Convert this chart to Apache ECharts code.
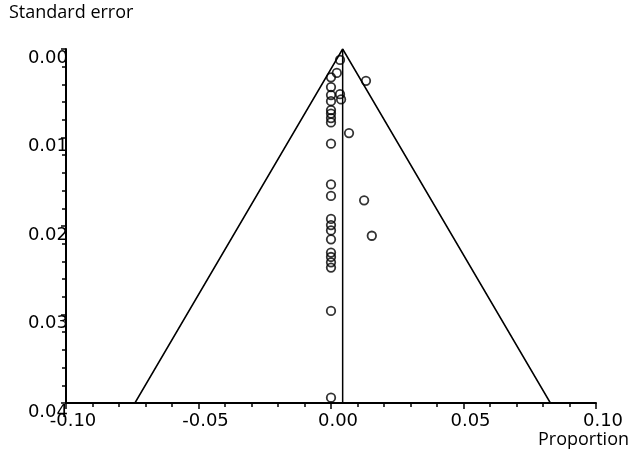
<!DOCTYPE html>
<html>
<head>
<meta charset="utf-8">
<script src="https://cdn.jsdelivr.net/npm/echarts@6/dist/echarts.min.js"></script>
<style>
  html, body { margin: 0; padding: 0; background: #fff; }
  #chart { width: 633px; height: 462px; }
</style>
</head>
<body>
<div id="chart"></div>
<script>
// study proportions and their standard errors
const proportion = [
  0.0034, 0.0022, 0.0000, 0.0132, 0.0000, 0.0034, 0.0038, 0.0000, 0.0000, 0.0000,
  0.0000, 0.0000, 0.0000, 0.0068, 0.0000, 0.0000, 0.0000, 0.0125, 0.0000, 0.0000,
  0.0000, 0.0000, 0.0154, 0.0000, 0.0000, 0.0000, 0.0000, 0.0000, 0.0000
]
const stdError = [
  0.00124, 0.0027, 0.0032, 0.0036, 0.0043, 0.0051, 0.0057, 0.0052, 0.0059, 0.0069,
  0.0073, 0.0078, 0.0083, 0.0095, 0.0107, 0.0153, 0.0166, 0.0171, 0.0192, 0.0199,
  0.0205, 0.0215, 0.0211, 0.0230, 0.0235, 0.0241, 0.0247, 0.0296, 0.0394
]
// pooled estimate and the pseudo 95% limits
const pooled = 0.0044
const funnelX = [-0.0740, 0.0044, 0.0828]
const funnelY = [0.04, 0, 0.04]
const xTicks = ['-0.10', '-0.05', '0.00', '0.05', '0.10']

const chart = echarts.init(document.getElementById('chart'))

const black = '#000'
const tickFont = 'DejaVu Sans'

const option = {
  animation: false,
  backgroundColor: '#fff',
  grid: { left: 66, right: 37, top: 49, bottom: 59 },
  xAxis: {
    type: 'value',
    min: -0.1,
    max: 0.1,
    interval: 0.05,
    axisLine: { show: true, onZero: false, lineStyle: { color: black, width: 2 } },
    axisTick: { show: true, length: 6, lineStyle: { color: black, width: 1.5 } },
    minorTick: { show: true, splitNumber: 5, length: 4, lineStyle: { color: black, width: 1.5 } },
    splitLine: { show: false },
    axisLabel: {
      color: black,
      fontFamily: tickFont,
      fontSize: 18,
      margin: 9,
      padding: [0, 0, 0, 14],
      formatter: (v) => xTicks[Math.round((v + 0.1) / 0.05)]
    }
  },
  yAxis: {
    type: 'value',
    inverse: true,
    min: 0,
    max: 0.04,
    interval: 0.01,
    axisLine: { show: true, onZero: false, lineStyle: { color: black, width: 2 } },
    axisTick: { show: true, length: 5, lineStyle: { color: black, width: 1.5 } },
    minorTick: { show: true, splitNumber: 5, length: 4, lineStyle: { color: black, width: 1.5 } },
    splitLine: { show: false },
    axisLabel: {
      color: black,
      fontFamily: tickFont,
      fontSize: 18,
      margin: -2,
      verticalAlign: 'top',
      formatter: (v) => v.toFixed(2)
    }
  },
  graphic: [
    {
      type: 'text',
      left: 9,
      top: 4,
      style: { text: 'Standard error', fill: black, font: '18px "Open Sans"' }
    },
    {
      type: 'text',
      right: 4,
      top: 431,
      style: { text: 'Proportion', fill: black, font: '18px "Open Sans"' }
    }
  ],
  series: [
    {
      type: 'line',
      data: funnelX.map((x, i) => [x, funnelY[i]]),
      symbol: 'none',
      lineStyle: { color: black, width: 1.5 },
      z: 2
    },
    {
      type: 'line',
      data: [[pooled, 0], [pooled, 0.04]],
      symbol: 'none',
      lineStyle: { color: black, width: 1.5 },
      z: 2
    },
    {
      type: 'scatter',
      data: proportion.map((x, i) => [x, stdError[i]]),
      symbol: 'circle',
      symbolSize: 8.5,
      itemStyle: { color: 'rgba(0,0,0,0)', borderColor: black, borderWidth: 1.8 },
      z: 3
    }
  ]
}

chart.setOption(option)
</script>
</body>
</html>
